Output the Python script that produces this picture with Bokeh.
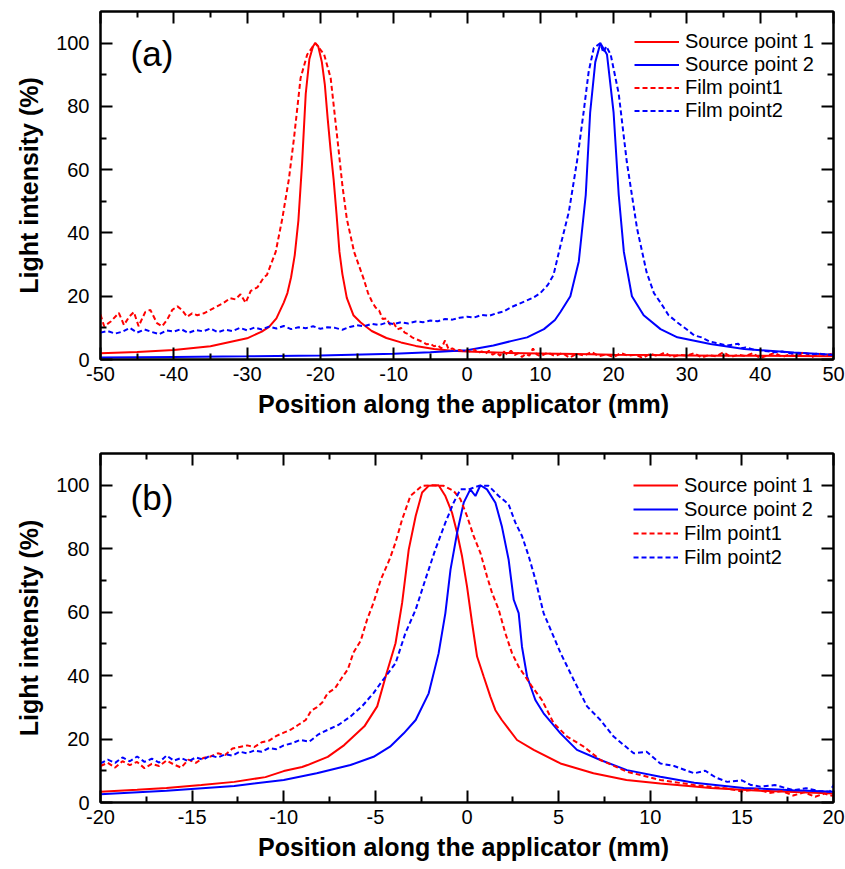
from bokeh.plotting import figure
from bokeh.models import Range1d, LinearAxis, FixedTicker, Legend, LegendItem, Label
from bokeh.layouts import column
from bokeh.embed import file_html
from bokeh.resources import INLINE

# ---------------- data: panel (a) ----------------
a_src1_x = [-50, -45, -40, -35, -30, -28, -27, -26, -25, -24.5, -24, -23.5, -23, -22.5, -22, -21.5,
            -21, -20.7, -20.3, -19.8, -19.4, -19.0, -18.6, -18.2, -17.8, -17.4, -17.0, -16.4, -15.5,
            -14.5, -13, -11, -9, -7, -4.5, -2, 0, 5, 10, 15, 20, 25, 30, 35, 40, 45, 50]
a_src1_y = [2.0, 2.4, 3.0, 4.2, 6.7, 8.8, 10.3, 13, 18, 21, 26, 33, 44, 62, 84, 95,
            99, 100, 99, 94, 87, 76, 66, 57, 46, 34, 27, 19.5, 14,
            11.7, 9, 6.8, 5.4, 4.3, 3.3, 2.8, 2.5, 2.1, 1.9, 1.7, 1.5, 1.4, 1.3, 1.2, 1.2, 1.1, 1.0]

a_src2_x = [-50, -40, -30, -20, -10, -5, 0, 3.6, 6, 8.2, 10.5, 12, 12.75, 14.1, 15.25, 16.2, 16.8,
            17.5, 18.2, 19.1, 20.0, 20.7, 21.4, 22.5, 24.1, 26.4, 28.7, 33.2, 37.8, 44.6, 50]
a_src2_y = [0.6, 0.8, 1.0, 1.3, 1.8, 2.3, 2.9, 4.4, 5.8, 7.0, 9.6, 12.5, 15, 20, 31, 52, 78,
            94, 100, 96.4, 78, 52, 34, 20, 14, 9.6, 7, 4.9, 3.3, 2.2, 1.5]

a_film1_x = [-50, -49.5, -48.6, -47.5, -46.8, -46.1, -45.45, -44.8, -43.9, -43.2,
             -42.3, -41.6, -40.9, -40.2, -39.5, -38.9, -38.2, -37.5, -36.8, -35.9,
             -35.0, -34.1, -33.2, -32.3, -31.6, -30.9, -30.2, -29.5, -28.6, -27.7,
             -27.3, -26.1, -25.2, -24.3, -23.6, -22.7, -21.8, -20.7, -19.5, -18.6,
             -17.6, -17.0, -16.4, -15.4, -14.1, -13.5, -13.0, -12.5, -12.0, -11.5,
             -11.0, -10.5, -10.0, -9.5, -9.0, -8.5, -8.0, -7.5, -7.0, -6.5,
             -6.0, -5.5, -5.0, -4.5, -4.0, -3.5, -3.0, -2.5, -2.0, -1.5,
             -1.0, -0.5, 0.0, 0.5, 1.0, 1.5, 2.0, 2.5, 3.0, 3.5,
             4.0, 4.5, 5.0, 5.5, 6.0, 6.5, 7.0, 7.5, 8.0, 8.5,
             9.0, 9.5, 10.0,
             11, 12, 13, 14, 15, 16, 17, 18, 19, 20,
             21, 22, 23, 24, 25, 26, 27, 28, 29, 30,
             31, 32, 33, 34, 35, 36, 37, 38, 39, 40,
             41, 42, 43, 44, 45, 46, 47, 48, 49, 50]
a_film1_y = [14.2, 10.5, 12, 14.7, 10.9, 13.5, 15, 10.5, 15, 15.7,
             11.5, 10.5, 12.6, 15.7, 16.8, 15.7, 13.5, 14.6, 14, 14.6,
             15.7, 16.8, 17.9, 19.4, 19, 20.6, 17.9, 21.7, 22.8, 26,
             26.7, 34, 44.5, 57, 70, 89, 96.4, 100, 96.5, 89,
             68, 55, 44.5, 34, 25.5, 21, 18.5, 16.5, 15.5, 12.8,
             13, 11, 11.5, 9.5, 10, 8.5, 8, 7, 6.5, 6,
             5.5, 4.8, 5, 4.2, 4.5, 3.5, 6, 3.2, 3.5, 2.8,
             3, 2.5, 2.8, 2.5, 3.2, 2, 2.6, 1.8, 2.8, 1.5,
             2.2, 1.2, 2.5, 1.6, 2.8, 1.4, 2, 0.8, 1.8, 1.2,
             3.5, 1.6, 1,
             2.2, 1.1, 2, 0.6, 1.8, 1.2, 2.4, 1, 1.6, 0.8,
             2, 1.2, 1.5, 0.5, 1.8, 1.1, 2.2, 0.7, 1.5, 1.2,
             2, 0.6, 1.4, 1, 2.3, 0.8, 1.5, 1.1, 2, 0.4,
             1.3, 2.1, 0.8, 1.6, 1, 2.4, 0.7, 1.8, 1.2, 2]

a_film2_x = [-50, -49, -48, -47, -46, -45, -44, -43, -42, -41,
             -40, -39, -38, -37, -36, -35, -34, -33, -32, -31,
             -30, -29, -28, -27, -26, -25, -24, -23, -22, -21,
             -20, -19, -18, -17, -16, -15, -14, -13, -12, -11,
             -10, -9, -8, -7, -6, -5, -4, -3, -2, -1,
             0, 1, 2, 3, 4, 5, 6, 7, 8, 9,
             10,
             11, 11.8, 12.75, 13.9, 15.0, 15.9, 16.6, 17.3, 18.2, 18.6,
             19.0, 19.6, 20.7, 21.8, 23.2, 24.5, 25.5, 26.4, 27.5, 28.7,
             30, 31, 32, 33, 34, 35.5, 37, 37.5, 38, 39,
             40, 41, 42, 43, 44, 45, 46, 47, 48, 49,
             50]
a_film2_y = [8.5, 9, 8.2, 8.8, 10, 8.5, 9.5, 8.7, 8, 9.2,
             8.8, 9.6, 8.4, 9.3, 8.9, 9.8, 8.6, 9.4, 9, 10,
             9.2, 10.1, 9.5, 10.4, 9.8, 10.6, 9.6, 10.2, 9.9, 10.5,
             9.7, 10.2, 10, 9.4, 10.3, 10.8, 10.5, 11.3, 10.9, 11.6,
             11.2, 11.8, 11.4, 12, 11.8, 12.3, 12.1, 12.8, 12.6, 13.2,
             13.5, 13.3, 14.1, 13.8, 14.6, 15.2, 16.5, 17.5, 18.5, 19.5,
             21,
             23.5, 26.7, 36, 46.7, 62.5, 78, 91, 98.5, 100, 97,
             99, 96.4, 84, 62.5, 41.4, 27.6, 21, 18, 14, 11.7,
             9.5, 7.6, 7, 5.8, 5.2, 4.4, 5, 3.6, 3.8, 3.2,
             2.9, 2.6, 2.3, 2.5, 2, 1.8, 2.1, 1.6, 1.9, 1.5,
             1.5]

# ---------------- data: panel (b) ----------------
b_src1_x = [-20, -18, -16.4, -14.5, -12.7, -11, -10, -9, -8.7, -7.6,
            -6.7, -5.6, -4.9, -4.4, -3.9, -3.54, -3.18, -2.8, -2.45, -2.09,
            -1.55, -1.18, -0.82, -0.54, -0.27, 0.0, 0.28, 0.55, 0.91, 1.28,
            1.55, 1.9, 2.73, 3.64, 5.1, 6.9, 8.7, 10.55, 13.3, 16.0,
            20]
b_src1_y = [3.4, 4.0, 4.6, 5.5, 6.5, 8.0, 9.9, 11.2, 11.8, 14.4,
            18.1, 24, 30.3, 40.5, 50.2, 62.9, 79.7, 90.3, 97.7, 99.8,
            100, 96.6, 91.4, 85, 77.6, 68.1, 56.5, 46, 39.7, 33.3,
            29.1, 26, 19.7, 16.6, 12.3, 9.2, 7.1, 6.0, 4.6, 3.7,
            2.8]

b_src2_x = [-20, -16.4, -12.7, -10, -8.2, -6.36, -5.1, -4.2, -3.45, -2.8,
            -2.09, -1.55, -1.18, -0.9, -0.54, -0.18, 0.18, 0.46, 0.73, 1.09,
            1.55, 1.9, 2.27, 2.55, 2.82, 3.0, 3.28, 3.73, 4.18, 5.1,
            6.0, 7.28, 8.73, 10.55, 12.4, 15.1, 17.8, 20]
b_src2_y = [2.6, 3.7, 5.2, 7.1, 9.2, 11.8, 14.4, 17.6, 21.8, 26,
            34.4, 47, 59.7, 73.4, 85, 94.5, 98.7, 96.6, 100, 98.7,
            94.5, 87.1, 76.6, 63.9, 59.7, 49.1, 39.7, 32.3, 28.1, 21.8,
            16.6, 13.4, 10.2, 8.1, 6.2, 4.6, 3.9, 3.4]

b_film1_x = [-20, -19.6, -19.2, -18.8, -18.4, -18, -17.6, -17.2, -16.8, -16.4,
             -16, -15.6, -15.2, -14.8, -14.4, -14, -13.6, -13.2, -12.8, -12.4,
             -12, -11.6, -11.2, -10.8, -10.4, -10, -9.6, -9.2, -8.8, -8.5,
             -8.2, -7.9, -7.6, -7.2, -6.9, -6.5, -6.2, -5.8, -5.45, -5.1,
             -4.7, -4.2, -3.9, -3.54, -3.09, -2.45, -1.9, -1.27, -0.73, -0.36,
             0.0, 0.36, 0.73, 1.09, 1.37, 1.73, 2.09, 2.46, 2.82, 3.18,
             3.55, 4.09, 4.73, 5.46, 6.37, 7.28, 8.73, 10.55, 12.4, 14.2,
             15, 15.8, 16.5, 17.2, 17.8, 18.4, 19, 19.5, 20]
b_film1_y = [11.5, 12.5, 11, 13, 11.8, 12.8, 10.8, 12.2, 11.5, 13.2,
             12, 11, 13.5, 12.5, 14, 14.5, 15.5, 15, 17, 17.5,
             18, 17.5, 19, 19.5, 21, 22, 23, 24.5, 26, 29,
             30, 31.5, 34.5, 36, 38.7, 42, 47.2, 51, 57.7, 63,
             70.3, 77, 82, 89.2, 96.6, 99.8, 100, 99.8, 98.2, 95.6,
             90.3, 84, 78.7, 71.3, 66, 60.8, 53.4, 47, 42.8, 39.7,
             36.5, 32.3, 25, 20.8, 17.6, 13.4, 9.7, 7.1, 5.5, 4.4,
             3.5, 4.2, 3.0, 3.6, 2.2, 3.2, 1.8, 2.8, 2.0]

b_film2_x = [-20, -19.6, -19.2, -18.8, -18.4, -18, -17.6, -17.2, -16.8, -16.4,
             -16, -15.6, -15.2, -14.8, -14.4, -14, -13.6, -13.2, -12.8, -12.4,
             -12, -11.6, -11.2, -10.8, -10.4, -10, -9.6, -9.1, -8.6, -8.1,
             -7.6, -7, -6.36, -5.7, -5.1, -4.6, -3.9, -3.36, -2.8, -2.27,
             -1.73, -1.18, -0.73, -0.36, 0.09, 0.64, 1.18, 1.73, 2.27, 2.64,
             3.0, 3.37, 3.73, 4.18, 4.6, 5.1, 5.82, 6.55, 7.28, 8.0,
             9.1, 9.8, 10.55, 11.3, 12.4, 13, 13.6, 14.2, 15, 15.5,
             16.0, 16.8, 17.8, 18.5, 19.2, 19.8, 20]
b_film2_y = [12.3, 13.5, 12.5, 14.2, 13, 14.5, 12.8, 13.8, 12.6, 14.8,
             13.2, 14, 13, 14.2, 13.5, 14.8, 14.2, 15.2, 14.8, 16,
             15.5, 16.4, 16, 17.2, 16.8, 18, 18.6, 19.7, 19.2, 21.5,
             22.9, 24.5, 27.1, 30.5, 34.5, 38.5, 43.9, 53.4, 60.8, 70.3,
             79.7, 88.2, 94.5, 98.7, 98.7, 99.8, 99.8, 96.6, 94, 88.2,
             84, 77.6, 70.3, 59.7, 54, 47.2, 38.7, 30.3, 26, 20.8,
             15.5, 16, 12.3, 11.5, 9.2, 10, 7.8, 6.5, 7, 5.5,
             5.0, 5.5, 3.9, 4.5, 3.6, 3.4, 5.5]

# ---------------- ticks / labels ----------------
y_major = [0, 20, 40, 60, 80, 100]
y_labels = ["0", "20", "40", "60", "80", "100"]
y_minor = [10, 30, 50, 70, 90]
a_x_major = [-50, -40, -30, -20, -10, 0, 10, 20, 30, 40, 50]
a_x_labels = ["-50", "-40", "-30", "-20", "-10", "0", "10", "20", "30", "40", "50"]
a_x_minor = [-45, -35, -25, -15, -5, 5, 15, 25, 35, 45]
b_x_major = [-20, -15, -10, -5, 0, 5, 10, 15, 20]
b_x_labels = ["-20", "-15", "-10", "-5", "0", "5", "10", "15", "20"]
b_x_minor = [-17.5, -12.5, -7.5, -2.5, 2.5, 7.5, 12.5, 17.5]
series_names = ["Source point 1", "Source point 2", "Film point1", "Film point2"]
x_title = "Position along the applicator  (mm)"
y_title = "Light intensity (%)"

RED = "#ff0000"
BLUE = "#0000ff"
FONT = "Liberation Sans"


def style_axis(ax, major, minor, labels=None, standoff=8, title_standoff=6):
    ax.ticker = FixedTicker(ticks=major, minor_ticks=minor)
    ax.axis_line_width = 2
    ax.axis_line_color = "black"
    ax.major_tick_line_width = 2
    ax.minor_tick_line_width = 2
    ax.major_tick_line_color = "black"
    ax.minor_tick_line_color = "black"
    ax.major_tick_in = 12
    ax.major_tick_out = 0
    ax.minor_tick_in = 6
    ax.minor_tick_out = 0
    ax.major_label_text_font = FONT
    ax.major_label_text_color = "black"
    if labels is not None:
        ax.major_label_overrides = {float(v): t for v, t in zip(major, labels)}
        ax.major_label_text_font_size = "20px"
        ax.major_label_standoff = standoff
    else:
        ax.major_label_text_font_size = "1px"
        ax.major_label_text_alpha = 0
        ax.major_label_standoff = 0
    ax.axis_label_text_font = FONT
    ax.axis_label_text_font_style = "bold"
    ax.axis_label_text_font_size = "25px"
    ax.axis_label_text_color = "black"
    ax.axis_label_standoff = title_standoff


def make_panel(xmin, xmax, x_major, x_labels, x_minor, data, tag, tag_x, tag_y,
               height, top_border, bottom_border, leg_margin, leg_pad, leg_row):
    p = figure(width=845, height=height, x_range=Range1d(xmin, xmax), y_range=Range1d(0, 110),
               output_backend="svg", toolbar_location=None,
               min_border_left=100, min_border_right=12, min_border_top=top_border,
               min_border_bottom=bottom_border)
    p.grid.visible = False
    p.outline_line_color = "black"
    p.outline_line_width = 2
    p.background_fill_color = "white"
    p.border_fill_color = "white"

    style_axis(p.xaxis[0], x_major, x_minor, x_labels, standoff=7, title_standoff=6)
    style_axis(p.yaxis[0], y_major, y_minor, y_labels, standoff=11, title_standoff=10)
    p.xaxis[0].axis_label = x_title
    p.yaxis[0].axis_label = y_title

    top = LinearAxis()
    style_axis(top, x_major, x_minor)
    p.add_layout(top, "above")
    right = LinearAxis()
    style_axis(right, y_major, y_minor)
    p.add_layout(right, "right")

    (s1x, s1y, s2x, s2y, f1x, f1y, f2x, f2y) = data
    r1 = p.line(s1x, s1y, line_color=RED, line_width=2)
    r2 = p.line(s2x, s2y, line_color=BLUE, line_width=2)
    r3 = p.line(f1x, f1y, line_color=RED, line_width=2, line_dash="5 3")
    r4 = p.line(f2x, f2y, line_color=BLUE, line_width=2, line_dash="5 3")

    items = [LegendItem(label=n, renderers=[r]) for n, r in zip(series_names, [r1, r2, r3, r4])]
    leg = Legend(items=items, location="top_right", border_line_alpha=0,
                 background_fill_alpha=0, label_text_font=FONT,
                 label_text_font_size="20px", label_text_color="black",
                 glyph_width=45, glyph_height=leg_row, label_height=leg_row, label_standoff=6,
                 spacing=0, padding=leg_pad, margin=leg_margin)
    p.add_layout(leg)

    p.add_layout(Label(x=tag_x, y=tag_y, text=tag, text_font=FONT, text_font_size="35px",
                       text_baseline="middle", text_align="left", text_color="black"))
    return p


pa = make_panel(-50, 50, a_x_major, a_x_labels, a_x_minor,
                (a_src1_x, a_src1_y, a_src2_x, a_src2_y, a_film1_x, a_film1_y, a_film2_x, a_film2_y),
                "(a)", -45.9, 96.8, 434, 11, 75, 11, 8, 23)
pb = make_panel(-20, 20, b_x_major, b_x_labels, b_x_minor,
                (b_src1_x, b_src1_y, b_src2_x, b_src2_y, b_film1_x, b_film1_y, b_film2_x, b_film2_y),
                "(b)", -18.36, 96.2, 435, 19, 67, 12, 8, 24)

layout = column(pa, pb, spacing=0)
open("out.html", "w").write(file_html(layout, INLINE))
